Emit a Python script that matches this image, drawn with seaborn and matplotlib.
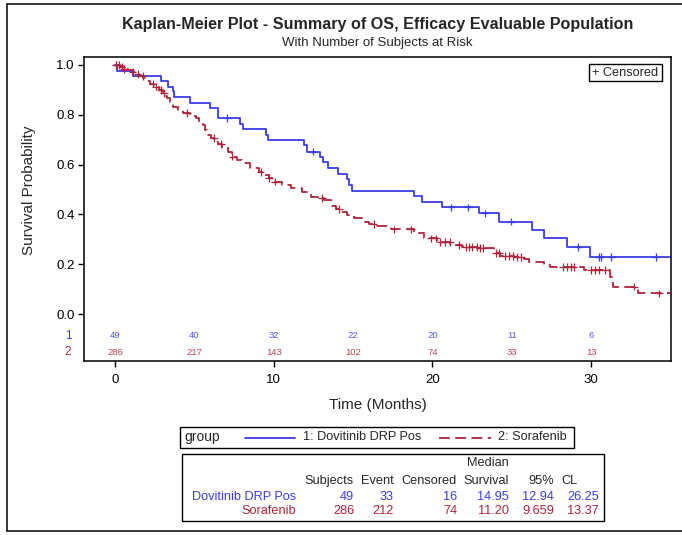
import numpy as np
import pandas as pd
import matplotlib
matplotlib.use("Agg")
import matplotlib.pyplot as plt
import seaborn as sns
from matplotlib.patches import Rectangle

# ---------------- data ----------------
groups = ["1: Dovitinib DRP Pos", "2: Sorafenib"]
colors = {"1: Dovitinib DRP Pos": "#3c3ce6", "2: Sorafenib": "#b0243a"}

blue_t = [0, 0.1, 1.11, 2.9, 3.35, 3.63, 3.7, 4.74, 6.0, 6.5, 7.86, 8.09, 9.54, 9.62,
          11.91, 12.12, 12.91, 13.12, 13.44, 14.05, 14.59, 14.74, 14.95, 18.87, 19.35,
          20.61, 22.96, 24.2, 26.27, 27.0, 28.5, 29.94]
blue_s = [1.0, 0.977, 0.955, 0.936, 0.913, 0.896, 0.870, 0.849, 0.826, 0.786, 0.763, 0.743,
          0.719, 0.699, 0.679, 0.652, 0.632, 0.609, 0.585, 0.562, 0.541, 0.518, 0.495,
          0.474, 0.451, 0.428, 0.404, 0.371, 0.337, 0.304, 0.270, 0.230]
blue_cens = [0.05, 7.04, 12.47, 21.2, 22.24, 23.3, 24.95, 29.16, 30.5, 30.6, 31.26, 34.1]

red_t = [0, 0.3, 0.58, 0.85, 1.11, 1.33, 1.53, 1.75, 1.95, 2.2, 2.47, 2.75, 3.0, 3.15, 3.31,
         3.45, 3.63, 3.95, 4.26, 4.7, 5.09, 5.3, 5.52, 5.68, 5.83, 6.05, 6.25, 6.5, 6.77,
         7.1, 7.4, 7.7, 8.03, 8.5, 9.08, 9.4, 9.7, 10.1, 10.55, 11.07, 11.8, 12.33, 12.8,
         13.16, 13.58, 13.9, 14.21, 14.6, 15.05, 15.58, 16.0, 16.42, 17.36, 18.82, 19.45,
         20.3, 21.13, 21.87, 22.81, 23.85, 24.28, 25.11, 25.74, 26.06, 27.0, 27.42, 29.52,
         31.19, 31.4, 32.97]
red_s = [1.0, 0.992, 0.984, 0.978, 0.971, 0.964, 0.957, 0.947, 0.936, 0.925, 0.913, 0.900,
         0.886, 0.876, 0.866, 0.850, 0.833, 0.820, 0.806, 0.796, 0.786, 0.772, 0.759, 0.739,
         0.719, 0.706, 0.692, 0.682, 0.672, 0.652, 0.632, 0.619, 0.605, 0.588, 0.571, 0.558,
         0.545, 0.532, 0.518, 0.505, 0.491, 0.471, 0.465, 0.458, 0.434, 0.422, 0.411, 0.398,
         0.384, 0.371, 0.362, 0.353, 0.340, 0.327, 0.304, 0.290, 0.277, 0.268, 0.264, 0.246,
         0.234, 0.228, 0.220, 0.208, 0.197, 0.188, 0.177, 0.150, 0.110, 0.083]
red_cens = [0.06, 0.27, 0.42, 0.58, 1.11, 1.43, 1.74, 2.37, 2.58, 2.89, 3.1, 4.57, 6.24,
            6.67, 7.4, 9.18, 9.7, 10.1, 13.06, 14.1, 16.3, 17.6, 18.65, 19.9, 20.2, 20.5,
            20.8, 21.1, 21.7, 22.1, 22.3, 22.5, 22.8, 23.0, 23.2, 24.0, 24.2, 24.6, 24.8,
            25.1, 25.3, 25.6, 28.2, 28.5, 28.7, 28.9, 30.0, 30.25, 30.5, 30.9, 32.7, 34.3, 35.0]

risk_times = [0, 5, 10, 15, 20, 25, 30, 35]
risk_blue = [49, 40, 32, 22, 20, 11, 6, 1]
risk_red = [286, 217, 143, 102, 74, 33, 13, 1]

x_ticks = [0, 10, 20, 30]
y_ticks = [0.0, 0.2, 0.4, 0.6, 0.8, 1.0]

stat_rows = ["Dovitinib DRP Pos", "Sorafenib"]
stat_subjects = ["49", "286"]
stat_event = ["33", "212"]
stat_censored = ["16", "74"]
stat_median = ["14.95", "11.20"]
stat_lcl = ["12.94", "9.659"]
stat_ucl = ["26.25", "13.37"]

title = "Kaplan-Meier Plot - Summary of OS, Efficacy Evaluable Population"
subtitle = "With Number of Subjects at Risk"

# ---------------- style ----------------
sns.set_theme(style="white")
plt.rcParams["font.family"] = ["Liberation Sans", "DejaVu Sans"]

XMIN, XMAX = -1.95, 35.03
YMIN, YMAX = -0.1867, 1.0321

curve_rows = []
for g, tt, ss in [(groups[0], blue_t, blue_s), (groups[1], red_t, red_s)]:
    for t, s in zip(list(tt) + [XMAX], list(ss) + [ss[-1]]):
        curve_rows.append({"time": t, "surv": s, "group": g})
curves = pd.DataFrame(curve_rows)

cens_rows = []
for g, tt, ss, cc in [(groups[0], blue_t, blue_s, blue_cens), (groups[1], red_t, red_s, red_cens)]:
    tt = np.asarray(tt); ss = np.asarray(ss)
    for c in cc:
        i = np.searchsorted(tt, c, side="right") - 1
        cens_rows.append({"time": c, "surv": ss[i], "group": g})
cens = pd.DataFrame(cens_rows)

W, H = 682, 535
fig = plt.figure(figsize=(W / 100, H / 100), dpi=100)
L, R, T, B = 84, 671, 57, 360.5
ax = fig.add_axes([L / W, 1 - B / H, (R - L) / W, (B - T) / H])

sns.lineplot(data=curves, x="time", y="surv", hue="group", style="group",
             palette=colors, dashes={groups[0]: "", groups[1]: (6, 3)},
             drawstyle="steps-post", estimator=None, legend=False, lw=1.3, ax=ax)
sns.scatterplot(data=cens, x="time", y="surv", hue="group", palette=colors,
                marker="+", s=30, linewidth=0.9, legend=False, ax=ax, zorder=3)

ax.set_xlim(XMIN, XMAX)
ax.set_ylim(YMIN, YMAX)
ax.set_xticks(x_ticks)
ax.set_yticks(y_ticks)
ax.set_xticklabels([str(v) for v in x_ticks])
ax.set_yticklabels([f"{v:.1f}" for v in y_ticks])
ax.set_xlabel("")
ax.set_ylabel("")
ax.tick_params(axis="both", which="major", bottom=True, left=True, top=False, right=False,
               direction="out", length=4.3, width=1.0, color="black",
               labelsize=9.5, labelcolor="black")
ax.tick_params(axis="x", pad=5.5)
ax.tick_params(axis="y", pad=2.5)
for sp in ax.spines.values():
    sp.set_color("black")
    sp.set_linewidth(1.1)
    sp.set_visible(True)

# at-risk numbers inside the axes
for t, nb, nr in zip(risk_times, risk_blue, risk_red):
    ax.text(t, -0.0871, str(nb), color=colors[groups[0]], fontsize=6.8,
            ha="center", va="center", alpha=0.85, clip_on=True)
    ax.text(t, -0.1526, str(nr), color=colors[groups[1]], fontsize=6.8,
            ha="center", va="center", alpha=0.85, clip_on=True)

# ---------------- overlay in pixel coordinates ----------------
ov = fig.add_axes([0, 0, 1, 1], zorder=5)
ov.set_xlim(0, W)
ov.set_ylim(H, 0)
ov.axis("off")
ov.patch.set_alpha(0)

# outer frame
ov.plot([7, W], [4, 4], color="black", lw=1.1)
ov.plot([7, 7], [4, 531], color="black", lw=1.1)
ov.plot([7, W], [531, 531], color="black", lw=1.1)

ov.text(377.5, 25, title, ha="center", va="center", fontsize=11.6, fontweight="bold")
ov.text(377.5, 43, subtitle, ha="center", va="center", fontsize=9.5)
ov.text(29, 190, "Survival Probability", rotation=90, ha="center", va="center", fontsize=11)
ov.text(378, 405, "Time (Months)", ha="center", va="center", fontsize=11)

ov.text(68, 335.7, "1", color=colors[groups[0]], ha="center", va="center", fontsize=8.5)
ov.text(68, 352, "2", color=colors[groups[1]], ha="center", va="center", fontsize=8.5)

# censored box
ov.add_patch(Rectangle((589, 64), 73, 17, fill=False, ec="black", lw=1.0))
ov.text(625.5, 72.8, "+ Censored", ha="center", va="center", fontsize=9.2)

# group legend
ov.add_patch(Rectangle((180, 427), 394, 21, fill=False, ec="black", lw=1.0))
ov.text(184, 437.5, "group", ha="left", va="center", fontsize=10)
ov.plot([245, 295], [437.5, 437.5], color=colors[groups[0]], lw=1.3)
ov.text(303, 437.5, groups[0], ha="left", va="center", fontsize=9.2)
ov.plot([439, 491], [437.5, 437.5], color=colors[groups[1]], lw=1.3, dashes=(6, 3))
ov.text(498, 437.5, groups[1], ha="left", va="center", fontsize=9.2)

# statistics table
ov.add_patch(Rectangle((182, 454), 422, 67, fill=False, ec="black", lw=1.0))
fs = 9.2
ov.text(509, 463.5, "Median", ha="right", va="center", fontsize=fs)
hdr_y = 481
for txt, xr in [("Subjects", 354), ("Event", 394), ("Censored", 457),
                ("Survival", 509), ("95%", 554)]:
    ov.text(xr, hdr_y, txt, ha="right", va="center", fontsize=fs)
ov.text(561, hdr_y, "CL", ha="left", va="center", fontsize=fs)
row_y = [497, 511]
for i, g in enumerate(groups):
    c = colors[g]
    y = row_y[i]
    ov.text(296, y, stat_rows[i], ha="right", va="center", fontsize=fs, color=c)
    for val, xr in [(stat_subjects[i], 354), (stat_event[i], 394), (stat_censored[i], 457),
                    (stat_median[i], 509), (stat_lcl[i], 554), (stat_ucl[i], 599)]:
        ov.text(xr, y, val, ha="right", va="center", fontsize=fs, color=c)

fig.savefig("out.png", dpi=100)
